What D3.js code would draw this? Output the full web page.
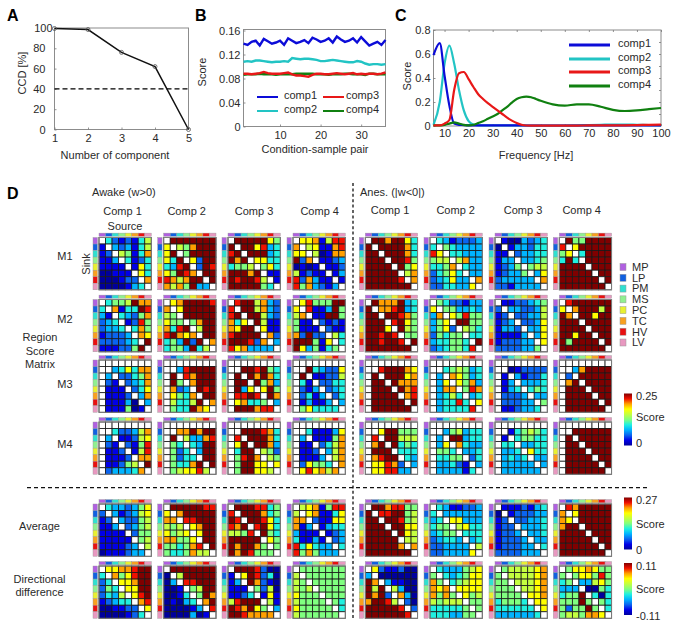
<!DOCTYPE html>
<html><head><meta charset="utf-8">
<script src="https://cdn.jsdelivr.net/npm/d3@7"></script>
<style>html,body{margin:0;padding:0;background:#fff}svg{display:block}text{font-family:"Liberation Sans",Arial,sans-serif}</style>
</head><body><svg id="c" width="677" height="626"></svg>
<script>
// ---------- Panel A ----------
const compCount = [1,2,3,4,5];
const ccd = [99.5,98.5,76,62,0];
const ccdThreshold = 40;
const ccdTicks = [0,20,40,60,80,100];
// ---------- Panel B ----------
const samplePair = [1,2,3,4,5,6,7,8,9,10,11,12,13,14,15,16,17,18,19,20,21,22,23,24,25,26,27,28,29,30,31,32,33,34,35,36];
const bComp1 = [.138,.136,.141,.143,.135,.146,.142,.138,.140,.143,.136,.147,.143,.139,.141,.144,.139,.148,.145,.141,.143,.147,.140,.150,.145,.141,.143,.147,.140,.149,.142,.135,.138,.141,.136,.144];
const bComp2 = [.108,.109,.108,.110,.110,.109,.108,.107,.108,.108,.109,.108,.114,.113,.112,.113,.113,.112,.111,.109,.109,.110,.111,.110,.109,.108,.107,.107,.109,.108,.105,.103,.104,.104,.103,.104];
const bComp3 = [.088,.088,.087,.088,.089,.091,.089,.088,.088,.088,.089,.090,.087,.085,.085,.084,.083,.086,.088,.088,.087,.087,.088,.089,.088,.087,.088,.089,.087,.088,.087,.088,.088,.087,.088,.090];
const bComp4 = [.086,.087,.087,.087,.088,.087,.087,.087,.086,.087,.087,.087,.087,.088,.088,.088,.088,.088,.087,.087,.087,.086,.087,.087,.087,.088,.088,.087,.087,.087,.086,.088,.088,.087,.087,.087];
// ---------- Panel C ----------
const freq =   [5.4,8,10,12,14,16,18,20,22,24,26,28,30,32,34,36,38,40,42,44,46,48,50,55,60,65,70,75,80,85,90,95,100];
const cComp1 = [.59,.69,.42,.17,.02,.01,.008,.006,.005,.005,.005,.005,.005,.005,.005,.005,.005,.005,.004,.004,.004,.004,.004,.004,.004,.004,.004,.004,.004,.004,.004,.004,.004];
const cComp2 = [.01,.2,.52,.67,.52,.3,.13,.04,.012,.006,.005,.005,.005,.005,.005,.005,.005,.005,.005,.004,.004,.004,.004,.004,.004,.006,.008,.01,.012,.012,.01,.008,.006];
const cComp3 = [.005,.005,.02,.05,.3,.44,.45,.39,.325,.265,.225,.19,.16,.13,.1,.07,.045,.025,.01,.004,.003,.003,.003,.003,.003,.003,.005,.005,.005,.006,.008,.01,.012];
const cComp4 = [.005,.005,.01,.02,.03,.02,.01,.005,.01,.025,.04,.06,.08,.1,.13,.16,.195,.225,.24,.245,.24,.225,.21,.18,.17,.18,.18,.16,.135,.125,.13,.14,.15];
// ---------- Region labels ----------
const regions = ["MP","LP","PM","MS","PC","TC","HV","LV"];
const regionColors = ["#b060e0","#1060e0","#30e0d0","#90f090","#e8f030","#f8a020","#e81010","#e898c0"];
// ---------- Score matrices: colour level per cell, 0-9 or X = top, . = blank ----------
const a1 = [
[".4212146","1.323146","12.65148","113.4124","1111.174","00111.74","000122.8","0000134."],
[".XXXXXXX","7.658XXX","7X.5XXXX","74X.72XX","439X.2X9","75X98.XX","9868XX.X","8685X33."],
[".XXXXX75","X.XX7934","9X.XXX34","X8X.7744","4556.574","XXX8X.11","X9XX96.1","XXXXX54."],
[".7781699","8.671189","77.60188","X28.1123","0101.112","61211.13","928311.1","9583213."]];
const a2 = [
[".4556X88","4.8144X9","31.43258","234.1295","2334.485","12223.87","222234.X","111225X."],
[".78XXXX9","8.7XXXXX","65.XXXXX","755.58XX","849X.6XX","9X878.XX","453X2X.8","4553X46."],
[".9XX6832","9.XX6832","9X.XX632","847.X611","87XX.711","9XXXX.82","XXX928.3","9783333."],
[".79555XX","7.9113X5","68.11XX5","511.2121","5111.211","82X22.64","XXX517.4","X735145."]];
const a3 = [
["........","..347488",".3.22458",".21.2348",".111.247",".1112.38",".11130.3",".111501."],
["........","..39XXXX",".X.98XXX",".X5.8XXX",".823.X9X",".7548.XX",".6446X.8",".544X87."],
["........","..XX9X54",".X.X8X84",".XX.X583",".X37.7X5",".99X9.X8",".78445.3",".XXX899."],
["........","..X43227",".X.11226",".41.2244",".213.234",".2413.24",".13113.3",".574444."]];
const a4 = [
["........","..422368",".3.11267",".21.2159",".112.169",".1112.88",".11256.X",".233348."],
["........","..88X8XX",".X.63389",".54.43XX",".524.3XX",".5244.XX",".5448X.X",".567796."],
["........","..XXX984",".9.XXX84",".7X.XX83",".4XX.652",".59X8.65",".5XX77.7",".5XX776."],
["........","..411137",".3.11158",".11.2468",".112.368",".1113.68",".27554.8",".797868."]];
const aAvg = [
[".4332357","2.312367","12.32256","113.2356","1111.255","11111.56","111123.6","0111233."],
[".XXXXX99","7.8XXXXX","88.99XXX","656.78XX","7567.7XX","88557.XX","554589.X","5445866."],
[".XXX9945","9.XXX845","X9.XX974","98X.9X74","6659.X54","XXXXX.75","X8XX85.5","X8X9555."],
[".6781599","6.781147","88.21177","813.1344","3111.123","41131.23","947433.4","9585333."]];
const aDir = [
[".77889XX","4.8579XX","24.778XX","254.77XX","2436.79X","12344.89","001122.7","0000124."],
[".XXXXXXX","0.6XXXXX","03.99XXX","001.56XX","0014.5X8","01034.8X","000013.9","0000301."],
[".XXX9200","1.7X9240","13.X8210","111.5260","1124.171","69XXX.61","X98X75.3","XX98888."],
[".5555555","6.555555","65.55555","656.5555","7555.555","65555.54","755555.4","6555555."]];
const n1 = [
[".XX8XX74","X.XXXX84","XX.XXX84","XXX.XX95","XXXX.X57","XXXXX.68","XXXXX9.8","XXXXXXX."],
[".4312223","4.543333","97.44333","566.6833","4458.433","24574.33","234733.8","2244337."],
[".1003234","0.133244","11.23344","133.3345","1235.566","12335.37","233333.8","2213333."],
[".X55XXXX","9.7XXXXX","57.4XXXX","4X4.XXXX","XXXX.XXX","XXXXX.XX","XXXXXX.X","XXXXXXX."]];
const n2 = [
[".X888X34","X.889X34","XX.XX985","XXX.9X75","XXX7.X65","XX9X9.55","XX9XX9.X","XXXXXXX."],
[".5422133","7.553343","38.75955","357.XX55","3572.654","25455.44","344554.X","2345549."],
[".1122345","2.332236","12.22336","123.2237","1332.337","11113.37","122233.7","2222335."],
[".9XXXXXX","7.8XXX6X","X8.XX7XX","XXX.XXXX","XXXX.XXX","XX7XX.XX","X5XXXX.X","XXXXXXX."]];
const n3 = [
["........","..9XXX87",".X.XXX78",".XX.X888",".XXX.X89",".XXXX.89",".XXXXX.X",".XXXXXX."],
["........","..456534",".3.87534",".37.7583",".388.598",".3464.34",".34494.7",".344449."],
["........","..012222",".1.31224",".13.3334",".134.454",".2223.33",".22233.5",".112334."],
["........","..38XXXX",".2.XXXXX",".8X.XXXX",".XXX.XXX",".XXXX.XX",".XXXXX.X",".XXXXXX."]];
const n4 = [
["........","..7XX555",".9.XX666",".8X.X454",".XXX.444",".89XX.43",".77982.3",".779933."],
["........","..356344",".3.XX344",".37.8433",".554.334",".4455.24",".33421.3",".333314."],
["........","..145654",".1.45544",".44.3344",".334.744",".3434.33",".33333.3",".333333."],
["........","..XXXXXX",".X.XXXXX",".XX.XXXX",".XXX.XXX",".XXXX.XX",".XXXXX.X",".XXXXXX."]];
const nAvg = [
[".XX89955","X.99XX56","XX.XX956","XXX.XX77","XXXX.X76","XXXXX.66","XXXXX8.8","XXXXXXX."],
[".4311223","4.333333","34.77333","455.6744","3455.444","23443.34","223333.6","2233337."],
[".1112134","0.122233","12.22334","122.3334","1223.334","12223.33","122233.4","2222333."],
[".98XXXXX","8.7XXXXX","87.XXXXX","8XX.XXXX","XXXX.XXX","XXXXX.XX","XXXXXX.X","XXXXXXX."]];
const nDir = [
[".7211200","3.000000","X8.31100","X6X.6300","X8X2.830","8XX96.20","XXXXX9.2","XXXXXX9."],
[".4333567","5.434577","85.45677","878.7777","8585.756","65666.55","444445.5","4443355."],
[".5666678","5.666678","55.66678","555.6678","5555.778","45554.77","444444.7","3333334."],
[".5778755","5.577595","45.33675","333.0054","455X.404","555X5.54","5255X5.4","5665887."]];
const jetStops = ["#00009c","#0000e8","#0a64f0","#00b4ff","#20f0e0","#80ff80","#c4ff40","#ffff00","#ffa000","#f01000","#800000"];

// ---------- Drawing ----------
const svg = d3.select("#c");
const ink = "#2a2a2a";
function label(x,y,s,o={}){
  const t = svg.append("text").attr("x",x).attr("y",y).attr("dy",".35em").attr("font-size",o.size||11)
    .attr("fill",o.fill||ink).attr("text-anchor",o.anchor||"middle").attr("font-weight",o.weight||null).text(s);
  if(o.rot) t.attr("transform",`rotate(${o.rot} ${x} ${y})`);
  return t;
}
function frame(g,x0,x1,y0,y1){
  g.append("rect").attr("x",x0).attr("y",y0).attr("width",x1-x0).attr("height",y1-y0).attr("fill","none").attr("stroke","#8c8c8c").attr("stroke-width",1);
}
function styleAxis(a){ a.select(".domain").remove(); a.selectAll("line").attr("stroke","#777").attr("stroke-width",.8); a.selectAll("text").attr("fill",ink).attr("font-size",11).attr("font-family",'"Liberation Sans",Arial,sans-serif'); }

// A
const xA = d3.scaleLinear().domain([1,5]).range([54.5,188.5]);
const yA = d3.scaleLinear().domain([0,100]).range([129.5,28]);
const gA = svg.append("g");
frame(gA,54.5,188.5,28,129.5);
styleAxis(gA.append("g").attr("transform","translate(0,129.5)").call(d3.axisBottom(xA).tickValues(compCount).tickFormat(d3.format("d")).tickSize(-2).tickPadding(5)));
styleAxis(gA.append("g").attr("transform","translate(54.5,0)").call(d3.axisLeft(yA).tickValues(ccdTicks).tickSize(-2).tickPadding(9)));
gA.selectAll("g.tick text").filter(d=>d===100).attr("x",-2);
gA.append("line").attr("x1",xA(1)).attr("x2",xA(5)).attr("y1",yA(ccdThreshold)).attr("y2",yA(ccdThreshold)).attr("stroke","#000").attr("stroke-width",1.4).attr("stroke-dasharray","5,3");
gA.append("path").attr("d",d3.line().x((d,i)=>xA(compCount[i])).y(d=>yA(d))(ccd)).attr("fill","none").attr("stroke","#111").attr("stroke-width",1.5);
gA.selectAll("circle").data(ccd).join("circle").attr("cx",(d,i)=>xA(compCount[i])).attr("cy",d=>yA(d)).attr("r",2).attr("fill","none").attr("stroke","#555").attr("stroke-width",.8);
label(22,73,"CCD [%]",{rot:-90});
label(115,155,"Number of component");
label(7,15,"A",{size:16,weight:"bold",anchor:"start",fill:"#000"});

// B
const xB = d3.scaleLinear().domain([1,36]).range([243.5,385.5]);
const yB = d3.scaleLinear().domain([0,.16]).range([126.5,30.5]);
const gB = svg.append("g");
frame(gB,243.5,385.5,29.5,126.5);
styleAxis(gB.append("g").attr("transform","translate(0,126.5)").call(d3.axisBottom(xB).tickValues([10,20,30]).tickFormat(d3.format("d")).tickSize(-2).tickPadding(5)));
styleAxis(gB.append("g").attr("transform","translate(243.5,0)").call(d3.axisLeft(yB).tickValues([0,.04,.08,.12,.16]).tickFormat(d=>d===0?"0":d3.format(".2f")(d)).tickSize(-2).tickPadding(3)));
const lineB = d3.line().x((d,i)=>xB(samplePair[i])).y(d=>yB(d));
const blue="#0c0cd8", cyan="#22c4c4", red="#e81818", green="#108010";
[[bComp4,green],[bComp3,red],[bComp2,cyan],[bComp1,blue]].forEach(([s,c])=>gB.append("path").attr("d",lineB(s)).attr("fill","none").attr("stroke",c).attr("stroke-width",2.4));
[[257,97,blue,"comp1",284,95],[257,111,cyan,"comp2",284,109],[323,97,red,"comp3",346,95],[323,111,green,"comp4",346,109]].forEach(([x,y,c,t,tx,ty])=>{
  gB.append("line").attr("x1",x).attr("x2",x+21).attr("y1",y).attr("y2",y).attr("stroke",c).attr("stroke-width",2);
  label(tx,ty,t,{anchor:"start"});
});
label(202,72,"Score",{rot:-90});
label(315,149,"Condition-sample pair");
label(195,15,"B",{size:16,weight:"bold",anchor:"start",fill:"#000"});

// C
const xC = d3.scaleLinear().domain([5.4,100]).range([433.5,661]);
const yC = d3.scaleLinear().domain([0,.8]).range([126,30]);
const gC = svg.append("g");
frame(gC,433.5,661,30,126);
const xTicksC = [10,20,30,40,50,60,70,80,90,100];
styleAxis(gC.append("g").attr("transform","translate(0,126)").call(d3.axisBottom(xC).tickValues(xTicksC).tickFormat(d3.format("d")).tickSize(-2).tickPadding(3)));
styleAxis(gC.append("g").attr("transform","translate(0,30)").call(d3.axisTop(xC).tickValues(xTicksC).tickFormat("").tickSize(-2)));
styleAxis(gC.append("g").attr("transform","translate(433.5,0)").call(d3.axisLeft(yC).tickValues([0,.2,.4,.6,.8]).tickFormat(d=>d===0?"0":d3.format(".1f")(d)).tickSize(-2).tickPadding(3)));
styleAxis(gC.append("g").attr("transform","translate(661,0)").call(d3.axisRight(yC).tickValues([.1,.2,.3,.4,.5,.6,.7]).tickFormat("").tickSize(-2)));
const lineC = d3.line().x((d,i)=>xC(freq[i])).y(d=>yC(d)).curve(d3.curveMonotoneX);
[[cComp2,cyan],[cComp1,blue],[cComp4,green],[cComp3,red]].forEach(([s,c])=>gC.append("path").attr("d",lineC(s)).attr("fill","none").attr("stroke",c).attr("stroke-width",2.2));
[[45,blue,"comp1",43.5],[59,cyan,"comp2",57],[72,red,"comp3",70.5],[86,green,"comp4",84]].forEach(([y,c,t,ty])=>{
  gC.append("line").attr("x1",569).attr("x2",610).attr("y1",y).attr("y2",y).attr("stroke",c).attr("stroke-width",3);
  label(618,ty,t,{anchor:"start"});
});
label(407,76,"Score",{rot:-90});
label(536,155,"Frequency [Hz]");
label(395,15,"C",{size:16,weight:"bold",anchor:"start",fill:"#000"});

// D
const colX = [99,163.7,228,293,365.3,430,495,559.3];
const rowY = [237.5,299.5,360,422,504,566];
const rowsAwake = [a1,a2,a3,a4,aAvg,aDir];
const rowsAnes = [n1,n2,n3,n4,nAvg,nDir];
const size = 52.3;
const band = d3.scaleBand().domain([0,1,2,3,4,5,6,7]).range([0,size]);
const levelScale = d3.scaleLinear().domain([0,1,2,3,4,5,6,7,8,9,10]).range(jetStops);
const toLevel = ch => ch==="X"?10:+ch;
function matrix(x0,y0,rows){
  const g = svg.append("g").attr("transform",`translate(${x0},${y0})`);
  g.selectAll("rect.top").data(regionColors).join("rect").attr("class","top")
    .attr("x",(d,i)=>band(i)).attr("y",-4.4).attr("width",band.bandwidth()).attr("height",3.2).attr("fill",d=>d).attr("stroke","#999").attr("stroke-width",.4);
  g.selectAll("rect.left").data(regionColors).join("rect").attr("class","left")
    .attr("x",-6).attr("y",(d,i)=>band(i)).attr("width",4.4).attr("height",band.bandwidth()).attr("fill",d=>d).attr("stroke","#999").attr("stroke-width",.4);
  const cells = rows.flatMap((r,i)=>r.split("").map((ch,j)=>({i,j,ch})));
  g.selectAll("rect.cell").data(cells).join("rect").attr("class","cell")
    .attr("x",d=>band(d.j)).attr("y",d=>band(d.i)).attr("width",band.bandwidth()).attr("height",band.bandwidth())
    .attr("fill",d=>d.ch==="."?"#fff":levelScale(toLevel(d.ch))).attr("stroke","#1a1a1a").attr("stroke-width",.8);
  g.append("rect").attr("width",size).attr("height",size).attr("fill","none").attr("stroke","#808080").attr("stroke-width",1);
}
rowY.forEach((y,r)=>{
  rowsAwake[r].forEach((m,c)=>matrix(colX[c],y,m));
  rowsAnes[r].forEach((m,c)=>matrix(colX[c+4],y,m));
});

label(7,193,"D",{size:16,weight:"bold",anchor:"start",fill:"#000"});
label(92,192.5,"Awake (w>0)",{anchor:"start"});
label(360,192.5,"Anes. (|w<0|)",{anchor:"start"});
const compTitles = ["Comp 1","Comp 2","Comp 3","Comp 4"];
[122.5,186.7,254,319.7].forEach((x,i)=>label(x,211,compTitles[i]));
[390,455.7,523,581.7].forEach((x,i)=>label(x,210,compTitles[i]));
label(125,226,"Source");
label(86,264,"Sink",{rot:-90});
[["M1",256],["M2",319],["M3",384],["M4",444]].forEach(([t,y])=>label(65,y,t));
label(40,337.5,"Region");label(40,351,"Score");label(40,364,"Matrix");
label(39.5,526,"Average");label(39.5,579.5,"Directional");label(39.5,592.5,"difference");

// legend of regions
const legScale = d3.scaleLinear().domain([0,7]).range([267,342.5]);
regions.forEach((r,i)=>{
  svg.append("rect").attr("x",620).attr("y",legScale(i)-3.5).attr("width",6).attr("height",7).attr("fill",regionColors[i]).attr("stroke","#999").attr("stroke-width",.5);
  label(632,legScale(i),r,{anchor:"start"});
});

// colour bars
const grad = svg.append("defs").append("linearGradient").attr("id","jet").attr("x1",0).attr("x2",0).attr("y1",1).attr("y2",0);
jetStops.forEach((c,i)=>grad.append("stop").attr("offset",i/10).attr("stop-color",c));
const barsTop = [393.5,497.5,563];
const barLabels = [["0.25","Score","0"],["0.27","Score","0"],["0.11","Score","-0.11"]];
const barCy = [[396,417,443.5],[500,524,550.5],[566,589,616]];
barsTop.forEach((y,i)=>{
  svg.append("rect").attr("x",624).attr("y",y).attr("width",8).attr("height",52).attr("fill","url(#jet)");
  barLabels[i].forEach((t,j)=>label(636,barCy[i][j],t,{anchor:"start"}));
});

// separators
svg.append("line").attr("x1",353).attr("x2",353).attr("y1",183).attr("y2",618).attr("stroke","#111").attr("stroke-width",1.3).attr("stroke-dasharray","3,2.4");
svg.append("line").attr("x1",27).attr("x2",650).attr("y1",487.7).attr("y2",487.7).attr("stroke","#111").attr("stroke-width",1.2).attr("stroke-dasharray","4,3");
</script></body></html>
